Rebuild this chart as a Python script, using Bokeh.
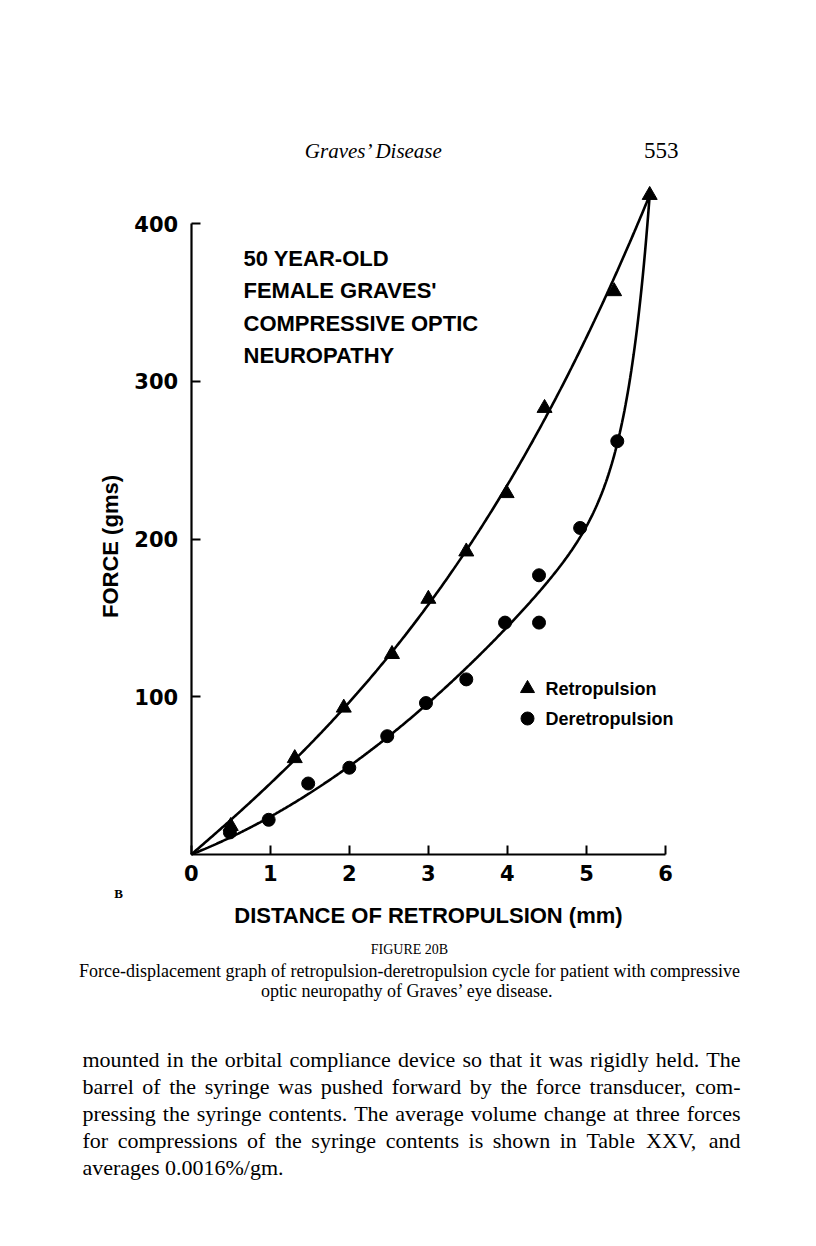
import math
import numpy as np
from bokeh.plotting import figure
from bokeh.models import LinearAxis, FixedTicker, Label, Range1d
from bokeh.embed import file_html
from bokeh.resources import INLINE

# ---------------- data ----------------
retro_x = [0.50, 1.31, 1.93, 2.54, 3.00, 3.48, 3.99, 4.47, 5.35, 5.80]
retro_y = [18, 61, 93, 127, 162, 192, 229, 283, 357, 418]
deretro_x = [0.49, 0.98, 1.48, 2.00, 2.48, 2.97, 3.48, 3.97, 4.40, 4.40, 4.92, 5.39]
deretro_y = [14, 22, 45, 55, 75, 96, 111, 147, 147, 177, 207, 262]
x_ticks = [0, 1, 2, 3, 4, 5, 6]
y_ticks = [100, 200, 300, 400]

title_lines = ["50 YEAR-OLD", "FEMALE GRAVES'", "COMPRESSIVE OPTIC", "NEUROPATHY"]
legend_labels = ["Retropulsion", "Deretropulsion"]
x_axis_title = "DISTANCE OF RETROPULSION (mm)"
y_axis_title = "FORCE (gms)"
header_title = "Graves\u2019 Disease"
page_number = "553"
panel_letter = "B"
figure_number = "FIGURE 20B"
caption_lines = [
    "Force-displacement graph of retropulsion-deretropulsion cycle for patient with compressive",
    "optic neuropathy of Graves\u2019 eye disease.",
]
body_lines = [
    "mounted in the orbital compliance device so that it was rigidly held. The",
    "barrel of the syringe was pushed forward by the force transducer, com-",
    "pressing the syringe contents. The average volume change at three forces",
    "for compressions of the syringe contents is shown in Table XXV, and",
    "averages 0.0016%/gm.",
]

# ---------------- layout ----------------
W, H = 800, 1230
X0, Y0 = 190.7, 854.0   # page position of the data origin
PX_X = 79.05            # pixels per mm
PX_Y = 1.5775           # pixels per gm


def dx(px):
    return (px - X0) / PX_X


def dy(py):
    return (Y0 - py) / PX_Y


p = figure(width=W, height=H,
           x_range=Range1d(dx(0), dx(W)), y_range=Range1d(dy(H), dy(0)),
           output_backend="svg", toolbar_location=None, x_axis_type=None, y_axis_type=None,
           min_border_left=0, min_border_bottom=0, min_border_top=0, min_border_right=0,
           title=None)
p.outline_line_color = None
p.background_fill_color = "white"
p.border_fill_color = "white"

xaxis = LinearAxis(ticker=FixedTicker(ticks=x_ticks), bounds=(0, 6), fixed_location=0)
yaxis = LinearAxis(ticker=FixedTicker(ticks=y_ticks), bounds=(0, 400), fixed_location=0)
for ax in (xaxis, yaxis):
    ax.axis_line_width = 2.2
    ax.axis_line_color = "black"
    ax.major_tick_line_width = 2
    ax.major_tick_line_color = "black"
    ax.major_tick_in = 9
    ax.major_tick_out = 0
    ax.minor_tick_line_color = None
    ax.major_label_text_font = "DejaVu Sans"
    ax.major_label_text_font_style = "bold"
    ax.major_label_text_font_size = "21px"
    ax.major_label_text_color = "black"
xaxis.major_label_standoff = 10
yaxis.major_label_standoff = 13
p.add_layout(xaxis, "below")
p.add_layout(yaxis, "left")

# ---------------- fitted curves ----------------
rx = np.array(retro_x, dtype=float)
ry = np.array(retro_y, dtype=float)
w_r = np.ones_like(rx)
w_r[-1] = 10.0
A = np.column_stack([rx, rx ** 2, rx ** 3]) * w_r[:, None]
cr = np.linalg.lstsq(A, ry * w_r, rcond=None)[0]
xr = np.linspace(0, rx[-1], 300)
yr = cr[0] * xr + cr[1] * xr ** 2 + cr[2] * xr ** 3

apex_x, apex_y = rx[-1], ry[-1]
dxa = np.array(deretro_x + [apex_x], dtype=float)
dya = np.array(deretro_y + [apex_y], dtype=float)
w_d = np.ones_like(dxa)
w_d[-1] = 10.0
NPOW = 21
B = np.column_stack([dxa, dxa ** 2, (dxa / apex_x) ** NPOW]) * w_d[:, None]
cd = np.linalg.lstsq(B, dya * w_d, rcond=None)[0]
xd = np.linspace(0, apex_x, 400)
yd = cd[0] * xd + cd[1] * xd ** 2 + cd[2] * (xd / apex_x) ** NPOW

p.line(xr, yr, line_width=2.6, line_color="black")
p.line(xd, yd, line_width=2.6, line_color="black")

p.scatter(retro_x, retro_y, marker="triangle", size=15, fill_color="black", line_color="black")
p.scatter(deretro_x, deretro_y, marker="circle", size=13, fill_color="black", line_color="black")

# ---------------- legend (drawn by hand) ----------------
p.scatter([dx(527)], [dy(688)], marker="triangle", size=14, fill_color="black", line_color="black")
p.scatter([dx(527)], [dy(718)], marker="circle", size=13, fill_color="black", line_color="black")


def add_text(txt, px, py, size, font="Liberation Serif", style="normal", align="left", angle=0.0):
    p.add_layout(Label(x=dx(px), y=dy(py), text=txt, text_font=font,
                       text_font_size=f"{size}px", text_font_style=style, angle=angle,
                       text_align=align, text_baseline="middle", text_color="black"))


add_text(legend_labels[0], 545, 688, 18, font="Liberation Sans", style="bold")
add_text(legend_labels[1], 545, 718, 18, font="Liberation Sans", style="bold")

for i, t in enumerate(title_lines):
    add_text(t, 243, 258 + 32.3 * i, 22, font="Liberation Sans", style="bold")

add_text(x_axis_title, 428, 915, 22, font="Liberation Sans", style="bold", align="center")
add_text(y_axis_title, 110, 546, 22, font="Liberation Sans", style="bold", align="center",
         angle=math.pi / 2)

# ---------------- page texts ----------------
add_text(header_title, 374, 150, 21, style="italic", align="center")
add_text(page_number, 678, 150, 23, align="right")
add_text(panel_letter, 118, 893, 13, style="bold", align="center")
add_text(figure_number, 409, 949, 14, align="center")
add_text(caption_lines[0], 409, 970, 18, align="center")
add_text(caption_lines[1], 407, 990, 18, align="center")

TIMES = {
    ' ': 250, '!': 333, "'": 180, '(': 333, ')': 333, ',': 250, '-': 333, '.': 250, '/': 278,
    '%': 833, ':': 278, ';': 278, '\u2019': 333,
    '0': 500, '1': 500, '2': 500, '3': 500, '4': 500, '5': 500, '6': 500, '7': 500, '8': 500, '9': 500,
    'A': 722, 'B': 667, 'C': 667, 'D': 722, 'E': 611, 'F': 556, 'G': 722, 'H': 722, 'I': 333,
    'J': 389, 'K': 722, 'L': 611, 'M': 889, 'N': 722, 'O': 722, 'P': 556, 'Q': 722, 'R': 667,
    'S': 556, 'T': 611, 'U': 722, 'V': 722, 'W': 944, 'X': 722, 'Y': 722, 'Z': 611,
    'a': 444, 'b': 500, 'c': 444, 'd': 500, 'e': 444, 'f': 333, 'g': 500, 'h': 500, 'i': 278,
    'j': 278, 'k': 500, 'l': 278, 'm': 778, 'n': 500, 'o': 500, 'p': 500, 'q': 500, 'r': 333,
    's': 389, 't': 278, 'u': 500, 'v': 500, 'w': 722, 'x': 500, 'y': 500, 'z': 444,
}


def tw(s, size):
    return sum(TIMES.get(c, 500) for c in s) * size / 1000.0


BODY_SIZE = 22
BODY_LEFT, BODY_RIGHT = 82, 740
for i, line in enumerate(body_lines):
    py = 1059 + 27 * i
    words = line.split(" ")
    widths = [tw(wd, BODY_SIZE) for wd in words]
    if i < len(body_lines) - 1:
        gap = (BODY_RIGHT - BODY_LEFT - sum(widths)) / (len(words) - 1)
    else:
        gap = tw(" ", BODY_SIZE)
    xpos = BODY_LEFT
    for wd, wdt in zip(words, widths):
        add_text(wd, xpos, py, BODY_SIZE)
        xpos += wdt + gap

open("out.html", "w").write(file_html(p, INLINE))
